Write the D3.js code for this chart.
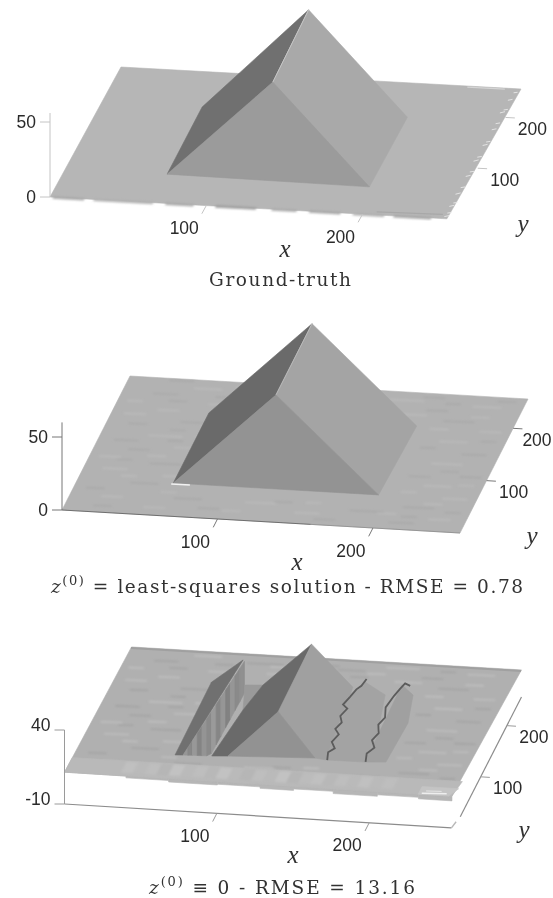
<!DOCTYPE html>
<html><head><meta charset="utf-8">
<script src="https://cdn.jsdelivr.net/npm/d3@7"></script>
<style>
html,body{margin:0;padding:0;background:#fff;overflow:hidden}
svg{display:block}
.tick{font-family:"Liberation Sans",sans-serif;font-size:17.5px;fill:#2a2a2a}
.math{font-family:"Liberation Serif",serif;font-style:italic;font-size:25px;fill:#333}
.title{font-family:"DejaVu Serif",serif;font-size:18.5px;fill:#333}
</style></head><body>
<svg id="c" width="553" height="898"></svg>
<script>
// ---------- data (x, y in pixels of the original surface, z in height units) ----------
const xTicks = [100, 200];
const yTicks = [100, 200];
const gridSize = 256;

const truthDark  = [[65,56,0],[64,188,0],[130,200,64.5],[130,71,60]];
const truthFront = [[65,56,0],[130,71,60],[195,53,0]];
const truthRight = [[130,71,60],[130,200,64.5],[195,190,0],[195,53,0]];
const truthRidge = [[130,71,60],[130,200,64.5]];
const truthFrontFlecks = [[2,22,168],[28,66,176],[74,92,170],[106,132,160],[142,158,172],[166,186,168],[194,214,176],[220,244,166]];
const truthRightFlecks = [[4,7],[11,5],[24,8],[31,4],[48,9],[61,6],[83,8],[92,5],[113,9],[121,6],[144,8],[151,5],[175,7],[187,6],[208,9],[214,5],[233,7],[248,4]];

const lsqDark  = [[61,62,0],[61,167,0],[61,196,0],[127,198,64.4],[125,74,60]];
const lsqFront = [[61,62,0],[125,74,60],[193,62,0]];
const lsqRight = [[125,74,60],[127,198,64.4],[195,194,0],[193,62,0]];
const lsqRidge = [[125,74,60],[127,198,64.4]];

const initSide    = [[64.5,47,11],[64,189,11],[87,176,32],[69.6,47.7,11]];
const initStripeBase = [[69.6,47.7],[88.6,172]];
const initStripeTopZ = [11,32.6];
const initStripeBottomZ = [11,-8,11];
const initStripeTones = [150,136,152,132,148,138,154,134,150,130,150,138,144];
const initGap   = [[86.3,187.5,11],[97.7,189.6,11],[93.1,140,11]];
const initDark  = [[88.2,49.2,11],[93.1,140,11],[97.7,189.6,11],[125,216.7,31],[125,89,29.5],[98.5,51,11]];
const initFront = [[98.5,51,11],[125,89,29.5],[154.5,57.4,11]];
const initRight = [[125,89,29.5],[125,216.7,31],[155.6,196,11],[156.3,181,11],[158.1,132,11],[160.6,80,11],[162.8,55,11],[154.5,57.4,11]];
const initStepA = [[162.8,55,11],[160.2,90,11],[159.1,127,11],[156.3,181,11],[166,182,20],[183,160,20],[190,93,20],[187.7,55.6,11]];
const initStepB = [[187.7,55.6,11],[190.5,180.7,20],[200.8,163,20],[206.7,109,20],[201,58,11]];
const initJagA = [[163,55,11],[161,70,11],[164,78,11],[160,90,11],[162,105,11],[158,115,11],[160,128,11],[157,140,11],[159,155,11],[155,162,11],[157,178,11],[160,184,14],[164,180,18],[166,188,20]];
const initJagB = [[188,56,11],[186,72,11],[189,84,11],[185,98,11],[187,112,11],[184,128,11],[186,142,11],[184,156,13],[187,170,16],[190,176,19],[192,184,20],[196,180,20]];
const initPlaneZ = [11.5, 11, 8.3, 7.6];
const initXMax = 254;
const initBandTones = [192,186,190,182,194,186,190,184,194,186,182,190,186,194,182,188,192,184,190,186,192,186,190];
const initFrontSteps = [[40,68,2],[68,100,3],[100,128,2.5],[128,150,3.5],[150,176,2.5],[176,205,4],[205,232,3],[232,254,4]];

const ripplesBack = [
 [20,30,14,1],[34,58,18,0],[12,82,16,1],[40,96,20,0],[22,120,14,0],[50,128,16,1],[30,148,22,1],[14,168,12,0],
 [46,176,18,0],[28,196,14,1],[58,212,20,1],[20,226,16,0],[44,240,18,1],[80,232,24,0],[110,244,16,1],[140,230,18,0],
 [170,240,22,1],[196,224,14,0],[224,236,18,1],[210,206,20,0],[236,190,14,1],[214,168,18,1],[232,146,16,0],[216,126,20,1],
 [238,104,14,0],[218,84,18,1],[234,62,16,1],[212,42,20,0],[232,22,14,1],[180,30,22,0],[146,20,16,1],[112,34,20,1],
 [84,18,14,0],[66,34,18,0],[208,12,16,0],[180,214,18,1],[60,150,10,1],[52,74,14,1],[96,214,14,1],[150,218,12,0],
 [8,44,12,0],[26,70,10,1],[6,104,14,1],[36,110,12,1],[10,136,16,0],[42,160,10,0],[8,186,14,1],[32,214,12,0],
 [6,210,10,1],[26,252,16,0],[60,226,12,0],[70,246,16,1],[96,228,12,1],[126,236,14,0],[128,218,10,1],[160,226,12,1],
 [190,248,14,0],[206,238,10,0],[238,248,12,0],[226,216,12,1],[204,190,12,1],[240,172,10,0],[204,154,10,0],[224,112,12,0],
 [206,100,14,0],[240,88,10,1],[206,70,10,1],[224,50,12,1],[240,36,10,0],[198,28,12,1],[160,10,14,0],[130,38,12,0],
 [100,16,12,1],[50,14,14,1],[18,12,12,0],[150,40,10,1],[214,24,10,0],[56,44,10,1],[44,140,10,0],[18,100,10,0]
];

// ---------- helpers ----------
const svg = d3.select('#c');
const defs = svg.append('defs');
defs.append('filter').attr('id','soft').attr('x','-5%').attr('y','-5%').attr('width','110%').attr('height','110%')
  .append('feGaussianBlur').attr('stdDeviation',0.7);
defs.append('filter').attr('id','softer').attr('x','-5%').attr('y','-5%').attr('width','110%').attr('height','110%')
  .append('feGaussianBlur').attr('stdDeviation',1.1);
defs.append('filter').attr('id','txt').append('feGaussianBlur').attr('stdDeviation',0.35);

function projection(o, xv, yv, zUnit){
  const xx=d3.scaleLinear().domain([0,gridSize]).range([0,xv[0]]),
        xy=d3.scaleLinear().domain([0,gridSize]).range([0,xv[1]]),
        yx=d3.scaleLinear().domain([0,gridSize]).range([0,yv[0]]),
        yy=d3.scaleLinear().domain([0,gridSize]).range([0,yv[1]]),
        zy=d3.scaleLinear().domain([0,1]).range([0,-zUnit]);
  return (x,y,z=0)=>[o[0]+xx(x)+yx(y), o[1]+xy(x)+yy(y)+zy(z)];
}
const line = d3.line();
function poly(g,P,pts,fill,stroke){
  return g.append('path').attr('d',line(pts.map(p=>P(...p)))+'Z').attr('fill',fill)
    .attr('stroke',stroke||fill).attr('stroke-width',0.6);
}
function seg(g,P,pts,color,w){
  return g.append('path').attr('d',line(pts.map(p=>P(...p)))).attr('fill','none')
    .attr('stroke',color).attr('stroke-width',w);
}
function axes(root,P,o){
  const base=o.zBase, ax=root.append('g').attr('filter','url(#txt)'), xm=o.xMax||gridSize;
  seg(ax,P,[[0,0,o.zDomain[0]],[0,0,o.zDomain[1]]],o.axisColor,o.axisW);
  o.zTicks.forEach(t=>{
    const [px,py]=P(0,0,t);
    ax.append('line').attr('x1',px-10).attr('x2',px).attr('y1',py).attr('y2',py).attr('stroke',o.axisColor).attr('stroke-width',o.axisW);
    root.append('text').attr('class','tick').attr('filter','url(#txt)').attr('x',px-14).attr('y',py+1+(o.zLabelDy||0)).attr('text-anchor','end').attr('dominant-baseline','middle').text(t);
  });
  xTicks.forEach(t=>{
    seg(ax,P,[[t,0,base],[t,-16,base]],o.axisColor,o.axisW);
    const [px,py]=P(t,0,base);
    root.append('text').attr('class','tick').attr('filter','url(#txt)').attr('x',px-22).attr('y',py+24).attr('text-anchor','middle').attr('dominant-baseline','middle').text(t);
  });
  yTicks.forEach(t=>{
    seg(ax,P,[[xm,t,base],[xm+6,t,base]],o.axisColor,o.axisW);
    const [px,py]=P(xm,t,base);
    root.append('text').attr('class','tick').attr('filter','url(#txt)').attr('x',Math.min(px+27,537)).attr('y',py+13).attr('text-anchor','middle').attr('dominant-baseline','middle').text(t);
  });
  root.append('text').attr('class','math').attr('filter','url(#txt)').attr('x',o.xLabel[0]).attr('y',o.xLabel[1]).attr('text-anchor','middle').text('x');
  root.append('text').attr('class','math').attr('filter','url(#txt)').attr('x',o.yLabel[0]).attr('y',o.yLabel[1]).attr('text-anchor','middle').text('y');
}
function title(root,cx,y,parts,w){
  const t=root.append('text').attr('class','title').attr('filter','url(#txt)').attr('x',cx).attr('y',y).attr('text-anchor','middle')
     .attr('textLength',w).attr('lengthAdjust','spacing');
  let back=false;
  parts.forEach(p=>{
    const s=t.append('tspan').text(p.t);
    if(p.i) s.attr('font-style','italic');
    if(p.sup){ s.attr('font-size',13).attr('dy',-8); back=true; }
    else if(back){ s.attr('dy',8); back=false; }
  });
}
function ripples(g,P,z,light,dark,w,maxY){
  const rg=g.append('g').attr('filter','url(#softer)');
  ripplesBack.filter(r=>r[1]<=maxY).forEach(r=>seg(rg,P,[[r[0],r[1],z],[r[0]+r[2],r[1]+0.8,z]],r[3]?light:dark,w));
}

// ---------- panel 1 : ground truth ----------
{
  const P=projection([50,197],[400,22],[71,-130],1.5);
  const g=svg.append('g').attr('filter','url(#soft)');
  poly(g,P,[[0,0],[254,0],[256,256],[0,256]],'#b6b6b6');
  const fl=g.append('g').attr('filter','url(#softer)');
  truthFrontFlecks.forEach(d=>{
    poly(fl,P,[[d[0],2],[d[1],2],[d[1],-3],[d[0],-3]],d3.rgb(d[2],d[2],d[2]).formatHex(),'none');
  });
  truthRightFlecks.forEach(d=>{
    seg(g,P,[[254-d[1]/3,d[0]],[256-d[1]/4,d[0]+d[1]/3]],'#e8e8e8',0.9);
  });
  seg(g,P,[[222,254],[246,254]],'#d4d4d4',1.4);
  seg(g,P,[[208,6],[250,8]],'#a8a8a8',1.2);
  poly(g,P,truthDark,'#6f6f6f');
  poly(g,P,truthRight,'#a9a9a9');
  poly(g,P,truthFront,'#9b9b9b');
  seg(g,P,truthRidge,'#c6c6c6',1);
  axes(svg.append('g'),P,{zBase:0,zDomain:[0,56],zTicks:[50,0],axisColor:'#c4c4c4',axisW:1,xLabel:[285,257],yLabel:[523,232]});
  title(svg,280,286,[{t:'Ground-truth'}],142);
}

// ---------- panel 2 : least squares ----------
{
  const P=projection([62,510],[398,23],[68,-134],1.46);
  const g=svg.append('g').attr('filter','url(#soft)');
  poly(g,P,[[0,0],[256,0],[256,256],[0,256]],'#b2b2b2');
  ripples(g,P,0,'#bebebe','#a6a6a6',1.2,256);
  poly(g,P,lsqDark,'#6a6a6a');
  poly(g,P,lsqRight,'#a4a4a4');
  poly(g,P,lsqFront,'#939393');
  seg(g,P,lsqRidge,'#bcbcbc',0.9);
  seg(g,P,[[0,0],[160,0]],'#5a5a5a',0.8);
  seg(g,P,[[160,0],[256,0]],'#8a8a8a',0.8);
  seg(g,P,[[60,60],[72,60]],'#f2f2f2',1.6);
  axes(svg.append('g'),P,{zBase:0,zDomain:[0,60],zTicks:[50,0],axisColor:'#777',axisW:1,xLabel:[297,570],yLabel:[532,544]});
  title(svg,287,593,[{t:'z',i:1},{t:'(0)',sup:1},{t:' = least-squares solution - RMSE = 0.78'}],472);
}

// ---------- panel 3 : zero initialisation ----------
{
  const P=projection([64.5,789.2],[390,24],[67,-131],1.48);
  const g=svg.append('g').attr('filter','url(#soft)');
  initFrontSteps.forEach(d=>poly(g,P,[[d[0],2,initPlaneZ[0]],[d[1],2,initPlaneZ[0]],[d[1],2,initPlaneZ[0]-d[2]],[d[0],2,initPlaneZ[0]-d[2]]],'#b6b6b6'));
  const corners=[[0,0,initPlaneZ[0]],[initXMax,0,initPlaneZ[1]],[gridSize,256,initPlaneZ[2]],[0,256,initPlaneZ[3]]];
  poly(g,P,corners,'#b0b0b0');
  seg(g,P,[[0,254,initPlaneZ[3]],[gridSize,254,initPlaneZ[2]]],'#a0a0a0',2);
  ripples(g,P,10,'#c2c2c2','#a0a0a0',1.3,241);
  poly(g,P,[[0,0,initPlaneZ[0]],[initXMax,0,initPlaneZ[1]],[initXMax+2,30,11],[0,30,11]],'#b9b9b9');
  const bw=d3.scaleLinear().domain([0,initBandTones.length]).range([36,214]);
  const bandG=g.append('g').attr('filter','url(#softer)');
  initBandTones.forEach((v,i)=>{
    poly(bandG,P,[[bw(i),8,11],[bw(i+1),8,11],[bw(i+1),28,11],[bw(i),28,11]],d3.rgb(v,v,v).formatHex());
  });
  poly(g,P,[[232,1,11],[252,1,11],[256,16,11],[232,16,11]],'#c4c4c4');
  seg(g,P,[[234,3,11],[250,5,11]],'#eeeeee',1.4);
  seg(g,P,[[236,8,11],[246,9,11]],'#e6e6e6',1);
  poly(g,P,initSide,'#6f6f6f');
  const base=d3.interpolate(initStripeBase[0],initStripeBase[1]);
  const topZ=d3.scaleLinear().domain([0,1]).range(initStripeTopZ);
  const botZ=d3.scaleLinear().domain([0,0.44,1]).range(initStripeBottomZ);
  const n=initStripeTones.length;
  const wall=(t,z)=>{const b=base(t);return [b[0],b[1],z(t)];};
  initStripeTones.forEach((v,i)=>{
    const c=d3.rgb(v,v,v).formatHex(), a=i/n, b=(i+1)/n;
    poly(g,P,[wall(a,botZ),wall(b,botZ),wall(b,topZ),wall(a,topZ)],c);
  });
  poly(g,P,initGap,'#9a9a9a');
  poly(g,P,initDark,'#6b6b6b');
  poly(g,P,initRight,'#a0a0a0');
  poly(g,P,initFront,'#929292');
  poly(g,P,initStepA,'#a3a3a3');
  poly(g,P,initStepB,'#a0a0a0');
  seg(g,P,initJagA,'#5c5c5c',1.8);
  seg(g,P,initJagB,'#5c5c5c',1.8);
  const ax=svg.append('g').attr('filter','url(#txt)');
  seg(ax,P,[[0,0,-10],[initXMax,0,-10]],'#8c8c8c',1.2);
  seg(ax,P,[[initXMax,0,-10],[initXMax+1,12,-10]],'#b8b8b8',1.4);
  seg(ax,P,[[initXMax+2,22,-10],[initXMax+2,256,-10]],'#8c8c8c',1.2);
  axes(svg.append('g'),P,{zBase:-10,zDomain:[-10,40],zTicks:[40,-10],axisColor:'#9a9a9a',axisW:1,xMax:initXMax+2,zLabelDy:-5,xLabel:[293,863],yLabel:[524,838]});
  title(svg,282,894,[{t:'z',i:1},{t:'(0)',sup:1},{t:' ≡ 0 - RMSE = 13.16'}],266);
}
</script></body></html>
